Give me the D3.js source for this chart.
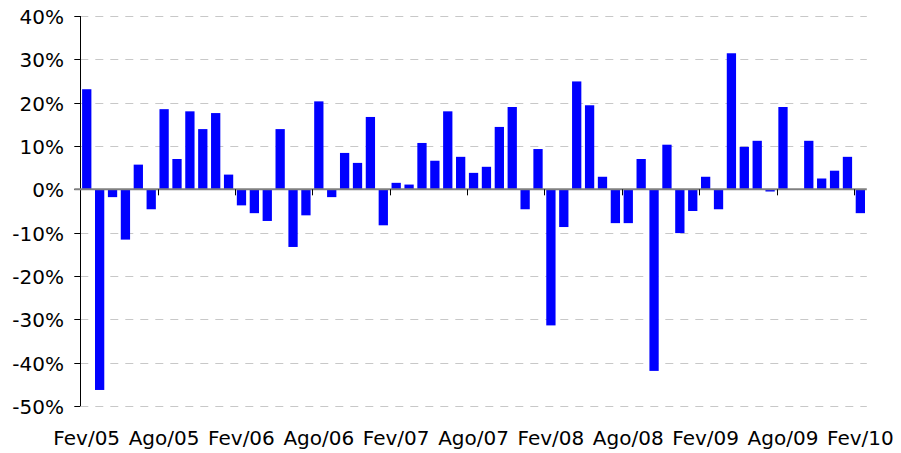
<!DOCTYPE html>
<html>
<head>
<meta charset="utf-8">
<script src="https://cdn.jsdelivr.net/npm/d3@7"></script>
<style>
  body { margin: 0; background: #fff; }
  svg { display: block; font-family: "DejaVu Sans", Verdana, sans-serif; }
</style>
</head>
<body>
<svg width="901" height="453"></svg>
<script>
// monthly change, Fev/05 .. Fev/10 (in %)
var monthNames = ["Jan","Fev","Mar","Abr","Mai","Jun","Jul","Ago","Set","Out","Nov","Dez"];
var values = [23.1, -46.3, -1.8, -11.6, 5.7, -4.6, 18.5, 7.0, 18.0, 13.9, 17.6, 3.4,
              -3.7, -5.5, -7.3, 13.9, -13.3, -6.0, 20.3, -1.8, 8.4, 6.1, 16.7, -8.3,
              1.5, 1.1, 10.7, 6.6, 18.0, 7.5, 3.8, 5.2, 14.4, 19.0, -4.6, 9.3,
              -31.4, -8.7, 24.9, 19.4, 2.9, -7.8, -7.8, 7.0, -41.9, 10.3, -10.1, -5.0,
              2.9, -4.6, 31.4, 9.8, 11.2, -0.5, 19.0, 0, 11.2, 2.5, 4.3, 7.5,
              -5.5];
var tickLabels = ["Fev/05","Ago/05","Fev/06","Ago/06","Fev/07","Ago/07","Fev/08","Ago/08","Fev/09","Ago/09","Fev/10"];
var yTicks = [40, 30, 20, 10, 0, -10, -20, -30, -40, -50];

// categories: Fev/05 onward, one per value
var categories = values.map(function(v, i) {
  var m = (1 + i) % 12, yr = 5 + Math.floor((1 + i) / 12);
  return monthNames[m] + "/" + (yr < 10 ? "0" + yr : yr);
});

var svg = d3.select("svg");
var plotLeft = 80.3, plotRight = 866.8, plotTop = 16, plotBottom = 406;

var x = d3.scaleBand()
  .domain(categories)
  .range([plotLeft, plotRight])
  .paddingInner(0.28)
  .paddingOuter(0.14);

var y = d3.scaleLinear()
  .domain([-50, 40])
  .range([plotBottom, plotTop]);

// dashed grid
svg.append("g")
  .selectAll("line")
  .data(yTicks.filter(function(d) { return d !== 0; }))
  .enter().append("line")
  .attr("x1", plotLeft).attr("x2", plotRight)
  .attr("y1", function(d) { return Math.round(y(d)) + 0.5; })
  .attr("y2", function(d) { return Math.round(y(d)) + 0.5; })
  .attr("stroke", "#c8c8c8")
  .attr("stroke-width", 1)
  .attr("stroke-dasharray", "8,7");

// bars
svg.append("g")
  .selectAll("rect")
  .data(values)
  .enter().append("rect")
  .attr("x", function(d, i) { return x(categories[i]); })
  .attr("width", x.bandwidth())
  .attr("y", function(d) { return y(Math.max(0, d)); })
  .attr("height", function(d) { return Math.abs(y(d) - y(0)); })
  .attr("fill", "#0000ff");

// y axis
var yAxis = svg.append("g");
yAxis.append("line")
  .attr("x1", Math.round(plotLeft) + 0.5).attr("x2", Math.round(plotLeft) + 0.5)
  .attr("y1", y(40)).attr("y2", y(-50))
  .attr("stroke", "#000");
yAxis.selectAll(".tk")
  .data(yTicks)
  .enter().append("line")
  .attr("x1", plotLeft - 6).attr("x2", plotLeft)
  .attr("y1", function(d) { return Math.round(y(d)) + 0.5; })
  .attr("y2", function(d) { return Math.round(y(d)) + 0.5; })
  .attr("stroke", "#000");
yAxis.selectAll("text")
  .data(yTicks)
  .enter().append("text")
  .attr("x", 64)
  .attr("y", function(d) { return y(d) + 8; })
  .attr("text-anchor", "end")
  .attr("font-size", "20px")
  .attr("fill", "#000")
  .text(function(d) { return d + "%"; });

// zero line
svg.append("line")
  .attr("x1", plotLeft - 6).attr("x2", plotRight)
  .attr("y1", y(0)).attr("y2", y(0))
  .attr("stroke", "#808080")
  .attr("stroke-width", 2);

// x ticks every 6 months, at band boundary
var step = x.step();
svg.append("g")
  .selectAll("line")
  .data(tickLabels.slice(1))
  .enter().append("line")
  .attr("x1", function(d) { return Math.round(x(d) - step * 0.14) + 0.5; })
  .attr("x2", function(d) { return Math.round(x(d) - step * 0.14) + 0.5; })
  .attr("y1", y(0)).attr("y2", y(0) + 6)
  .attr("stroke", "#000");

svg.append("g")
  .selectAll("text")
  .data(tickLabels)
  .enter().append("text")
  .attr("x", function(d) { return x(d) + x.bandwidth() / 2; })
  .attr("y", 445)
  .attr("text-anchor", "middle")
  .attr("font-size", "20px")
  .attr("fill", "#000")
  .text(function(d) { return d; });
</script>
</body>
</html>
